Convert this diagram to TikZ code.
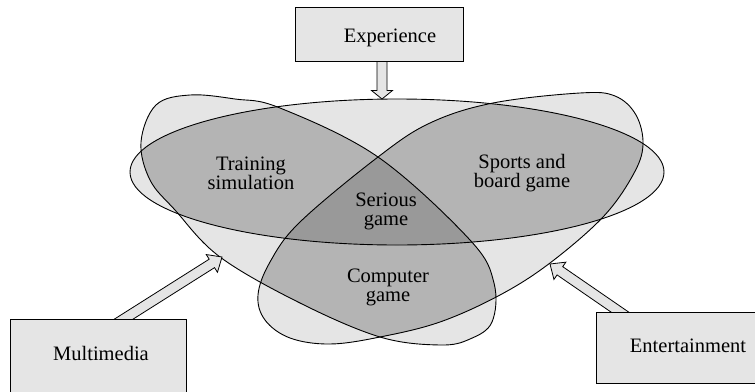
\documentclass[tikz,border=0pt]{standalone}
\usepackage{fontspec}
\setmainfont{Liberation Serif}
\usetikzlibrary{calc}
\pgfdeclarelayer{back}
\pgfsetlayers{back,main}
\definecolor{lgray}{gray}{0.9}
\definecolor{mgray}{gray}{0.705}
\definecolor{dgray}{gray}{0.6}
\tikzset{
  setbox/.style={draw=black, line width=1pt, fill=lgray, inner xsep=0pt, inner ysep=0pt, font=\fontsize{20.5}{19}\selectfont},
  lbl/.style={align=center, font=\fontsize{20.5}{19}\selectfont, inner sep=0pt},
  blk/.style={draw=black, line width=0.8pt, fill=lgray, line join=miter},
  outline/.style={draw=black, line width=0.9pt}
}
\newcommand\blockarrow[5]{%
  \coordinate (#1-#2-h) at ($(#2)!#5!(#1)$);
  \draw[blk] ($(#1)!#3!90:(#2)$) -- ($(#1-#2-h)!#3!90:(#2)$) -- ($(#1-#2-h)!#4!90:(#2)$) -- (#2) -- ($(#1-#2-h)!#4!-90:(#2)$) -- ($(#1-#2-h)!#3!-90:(#2)$) -- ($(#1)!#3!-90:(#2)$) -- cycle;
}
\def\pathA{(397,172) ellipse [x radius=267pt, y radius=73pt]}
\def\pathB{plot[smooth cycle, tension=0.6] coordinates {(141,142) (156,105) (190,95) (235,99) (280,108) (378,157) (470,240) (494,283) (492,322) (470,339) (440,345) (380,337) (300,303) (220,257) (175,210) (150,180)}}
\def\pathC{plot[smooth cycle, tension=0.6] coordinates {(580,93) (615,96) (636,115) (643,145) (633,175) (603,217) (550,263) (500,295) (440,322) (380,337) (330,344) (290,338) (265,320) (258,295) (270,262) (300,222) (378,157) (430,123) (493,103)}}
\begin{document}
\begin{tikzpicture}[x=1pt,y=-1pt]
\useasboundingbox (0,0) rectangle (755,391);
% source boxes (main layer, on top)
\node[setbox, minimum width=168pt, text height=35pt, text depth=19pt, anchor=north] (exp) at (379,7) {\hspace*{22pt}Experience};
\node[setbox, minimum width=176pt, text height=41pt, text depth=40pt, anchor=north] (mm) at (98,319) {\hspace*{6pt}Multimedia};
\node[setbox, minimum width=204pt, text height=40pt, text depth=31pt, anchor=north west] (ent) at (596,312) {\hspace*{-21pt}Entertainment};
\coordinate (expS) at ($(exp.south)+(3,-3)$);
\coordinate (expT) at (382,99);
\coordinate (mmS) at (116,324);
\coordinate (mmT) at (222,257);
\coordinate (entS) at (627,317);
\coordinate (entT) at (550,264);
\begin{pgfonlayer}{back}
% base fills
\fill[lgray] \pathA;
\fill[lgray] \pathB;
\fill[lgray] \pathC;
% pairwise overlaps
\begin{scope}
  \clip \pathA;
  \fill[mgray] \pathB;
  \fill[mgray] \pathC;
\end{scope}
\begin{scope}
  \clip \pathB;
  \fill[mgray] \pathC;
\end{scope}
% triple overlap
\begin{scope}
  \clip \pathA;
  \clip \pathB;
  \fill[dgray] \pathC;
\end{scope}
% outlines
\draw[outline] \pathA;
\draw[outline] \pathB;
\draw[outline] \pathC;
% block arrows
\blockarrow{expS}{expT}{5pt}{10.5pt}{8.5pt}
\blockarrow{mmS}{mmT}{5pt}{10.5pt}{12pt}
\blockarrow{entS}{entT}{5pt}{10.5pt}{12pt}
\end{pgfonlayer}
% region labels
\node[lbl] (train) at (251,173) {Training\\simulation};
\node[lbl] (serious) at (386,211) {Serious\\game};
\node[lbl] (sports) at (522,173) {Sports and\\board game};
\node[lbl] (comp) at (388,287) {Computer\\game};
\end{tikzpicture}
\end{document}
